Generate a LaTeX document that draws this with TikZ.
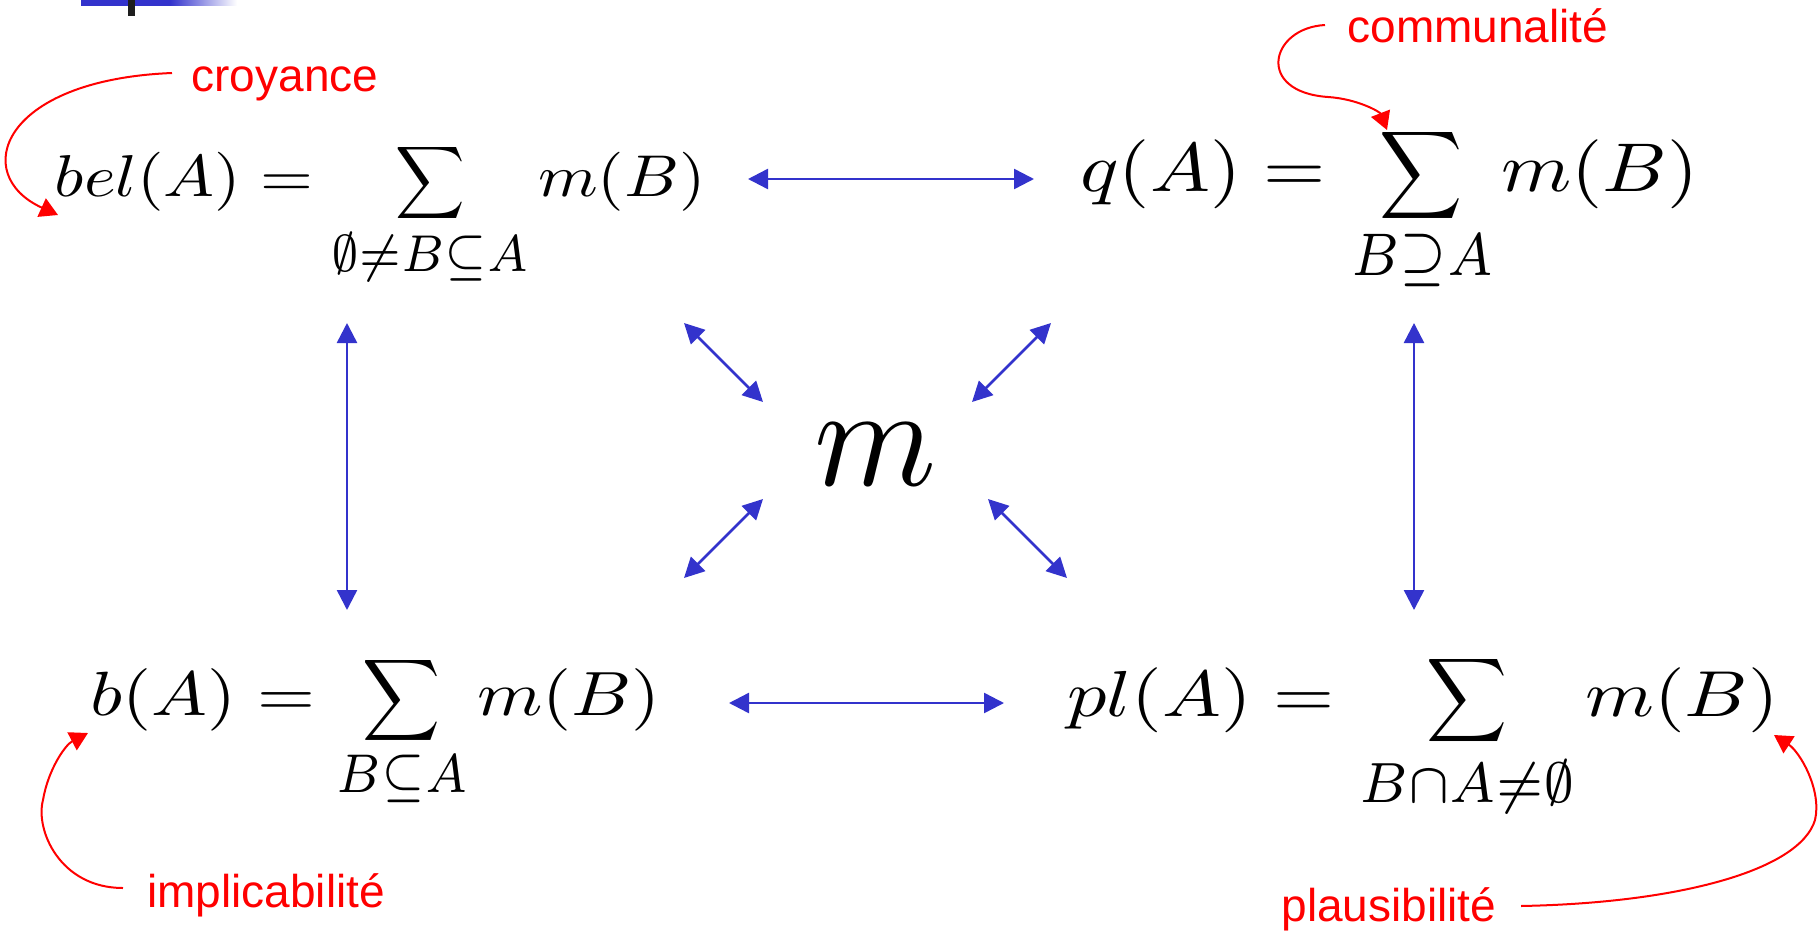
\documentclass[tikz,border=0pt]{standalone}
\usepackage{fontspec}
\newfontfamily\labelfont{Liberation Sans}
\usetikzlibrary{arrows.meta}
\definecolor{arrowblue}{RGB}{51,51,204}
\definecolor{tickgray}{RGB}{30,30,30}
\begin{document}
\begin{tikzpicture}[x=1pt,y=-1pt,
  eq/.style={inner sep=0pt,outer sep=0pt,anchor=base},
  sig/.style={inner sep=0pt,outer sep=0pt,anchor=center},
  lab/.style={inner sep=0pt,outer sep=0pt,anchor=base,text=red,font=\labelfont\fontsize{46}{50}\selectfont},
  barrow/.style={draw=arrowblue,line width=2.5pt,{Triangle[length=20pt,width=20pt]}-{Triangle[length=20pt,width=20pt]}},
  rarrow/.style={draw=red,line width=2pt,-{Triangle[length=18pt,width=20pt]}},
]
\useasboundingbox (0,0) rectangle (1820,931);
% top-left decoration
\fill[arrowblue] (81,0) rectangle (170,6);
\shade[left color=arrowblue,right color=white] (170,0) rectangle (237,6);
\fill[tickgray] (128,0) rectangle (135,16);

% bel formula
\node[eq,xscale=6.8,yscale=5.9] (bel) at (184,196) {$bel(A) =$};
\node[sig,xscale=4.82,yscale=5.07] (sum1) at (430,182.5) {$\displaystyle\sum$};
\node[eq,xscale=6.8,yscale=7.4] (sub1) at (430,271) {$\scriptstyle\emptyset\neq B\subseteq A$};
\node[eq,xscale=6.8,yscale=5.9] (mb1) at (622,196) {$m(B)$};

% q formula
\node[eq,xscale=8.0,yscale=6.9] (q) at (1203,191) {$q(A) =$};
\node[sig,xscale=5.76,yscale=6.14] (sum2) at (1421,175) {$\displaystyle\sum$};
\node[eq,xscale=7.6,yscale=8.6] (sub2) at (1422,275) {$\scriptstyle B\supseteq A$};
\node[eq,xscale=8.0,yscale=6.9] (mb2) at (1600,191) {$m(B)$};

% b formula
\node[eq,xscale=7.45,yscale=6.25] (b) at (203,715) {$b(A) =$};
\node[sig,xscale=5.4,yscale=5.71] (sum3) at (401.5,700) {$\displaystyle\sum$};
\node[eq,xscale=7.0,yscale=7.8] (sub3) at (402,792) {$\scriptstyle B\subseteq A$};
\node[eq,xscale=7.45,yscale=6.25] (mb3) at (569,715) {$m(B)$};

% pl formula
\node[eq,xscale=7.85,yscale=6.5] (pl) at (1201,716) {$pl(A) =$};
\node[sig,xscale=5.61,yscale=5.86] (sum4) at (1467,701) {$\displaystyle\sum$};
\node[eq,xscale=7.7,yscale=8.1] (sub4) at (1467,802) {$\scriptstyle B\cap A\neq\emptyset$};
\node[eq,xscale=7.85,yscale=6.5] (mb4) at (1682,716) {$m(B)$};

% central m
\node[eq,xscale=13.9,yscale=14.4] (m) at (876,485) {$m$};

% blue arrows
\coordinate (h1a) at (748,179); \coordinate (h1b) at (1034,179);
\coordinate (h2a) at (729,703); \coordinate (h2b) at (1004,703);
\coordinate (v1a) at (347,323); \coordinate (v1b) at (347,610);
\coordinate (v2a) at (1414,323); \coordinate (v2b) at (1414,610);
\coordinate (d1a) at (684,323); \coordinate (d1b) at (763,402);
\coordinate (d2a) at (1051,323); \coordinate (d2b) at (972,402);
\coordinate (d3a) at (684,578); \coordinate (d3b) at (763,499);
\coordinate (d4a) at (1067,578); \coordinate (d4b) at (988,499);
\draw[barrow] (h1a) -- (h1b);
\draw[barrow] (h2a) -- (h2b);
\draw[barrow] (v1a) -- (v1b);
\draw[barrow] (v2a) -- (v2b);
\draw[barrow] (d1a) -- (d1b);
\draw[barrow] (d2a) -- (d2b);
\draw[barrow] (d3a) -- (d3b);
\draw[barrow] (d4a) -- (d4b);

% red labels
\node[lab] (croy) at (285,92) {croyance};
\node[lab] (comm) at (1478,43) {communalité};
\node[lab] (impl) at (266,907) {implicabilité};
\node[lab] (plaus) at (1389,921) {plausibilité};

\coordinate (c1s) at (172,73); \coordinate (c1e) at (58,215);
\coordinate (c2s) at (1325,25); \coordinate (c2m) at (1328,97); \coordinate (c2e) at (1387,130);
\coordinate (c3s) at (123,888); \coordinate (c3m) at (43,800); \coordinate (c3e) at (88,733);
\coordinate (c4s) at (1521,906); \coordinate (c4m) at (1815,820); \coordinate (c4e) at (1774,735);
\draw[rarrow] (c1s) .. controls (0,80) and (-30,175) .. (c1e);
\draw[rarrow] (c2s) .. controls (1270,28) and (1255,92) .. (c2m) .. controls (1358,99) and (1380,112) .. (c2e);
\draw[rarrow] (c3s) .. controls (60,888) and (35,830) .. (c3m) .. controls (48,770) and (65,745) .. (c3e);
\draw[rarrow] (c4s) .. controls (1680,903) and (1800,870) .. (c4m) .. controls (1822,790) and (1800,752) .. (c4e);
\end{tikzpicture}
\end{document}
